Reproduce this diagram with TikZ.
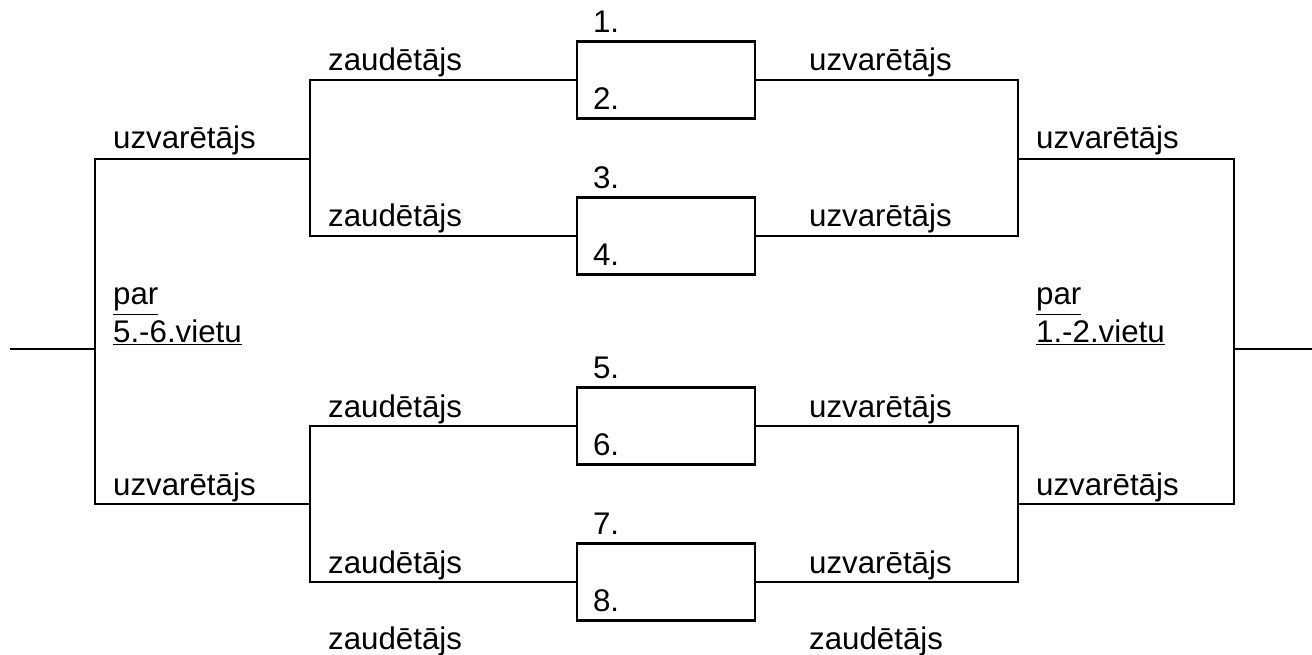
\documentclass[tikz,border=0pt]{standalone}
\usepackage{fontspec}
\setmainfont{Liberation Sans}
\usepackage{tikz}
\usetikzlibrary{positioning}
\usetikzlibrary{calc}

\tikzset{
	game/.style={draw, minimum width=3.56cm, minimum height=1.54cm},
	txt/.style={anchor=base west, inner sep=0pt, font=\fontsize{17.8}{21}\selectfont}
}

\begin{document}
\begin{tikzpicture}[x=0.02cm, y=-0.02cm, line width=1.3pt]
	\useasboundingbox (0,0) rectangle (1312,655);

	% nodes
	\node[game] (m1) at (666,80) {};
	\node[game] (m2) at (666,236) {};
	\node[game] (m3) at (666,426) {};
	\node[game] (m4) at (666,582) {};

	\node[txt] (n1) at ($(m1.north west)+(16,-8)$) {1.};
	\node[txt] (n2) at ($(m1.south west)+(16,-10)$) {2.};
	\node[txt] (n3) at ($(m2.north west)+(16,-8)$) {3.};
	\node[txt] (n4) at ($(m2.south west)+(16,-10)$) {4.};
	\node[txt] (n5) at ($(m3.north west)+(16,-8)$) {5.};
	\node[txt] (n6) at ($(m3.south west)+(16,-10)$) {6.};
	\node[txt] (n7) at ($(m4.north west)+(16,-8)$) {7.};
	\node[txt] (n8) at ($(m4.south west)+(16,-10)$) {8.};

	\coordinate (lj1) at (310,159);
	\coordinate (lj2) at (310,504);
	\coordinate (lt) at (95,159);
	\coordinate (lb) at (95,504);
	\coordinate (lm) at (95,349);
	\coordinate (lend) at (10,349);
	\coordinate (rj1) at (1018,159);
	\coordinate (rj2) at (1018,504);
	\coordinate (rt) at (1234,159);
	\coordinate (rb) at (1234,504);
	\coordinate (rm) at (1234,349);
	\coordinate (rend) at (1312,349);

	% edges
	\draw (m1.west) -| (lj1) |- (m2.west);
	\draw (m3.west) -| (lj2) |- (m4.west);
	\draw (lj1) -- (lt) -- (lb) -- (lj2);
	\draw (lm) -- (lend);

	\draw (m1.east) -| (rj1) |- (m2.east);
	\draw (m3.east) -| (rj2) |- (m4.east);
	\draw (rj1) -- (rt) -- (rb) -- (rj2);
	\draw (rm) -- (rend);

	% labels
	\node[txt] (z1) at (327,71) {zaudētājs};
	\node[txt] (z2) at (327,227) {zaudētājs};
	\node[txt] (z3) at (327,417) {zaudētājs};
	\node[txt] (z4) at (327,573) {zaudētājs};
	\node[txt] (z5) at (327,649) {zaudētājs};

	\node[txt] (u1) at (808,71) {uzvarētājs};
	\node[txt] (u2) at (808,227) {uzvarētājs};
	\node[txt] (u3) at (808,417) {uzvarētājs};
	\node[txt] (u4) at (808,573) {uzvarētājs};
	\node[txt] (z6) at (808,649) {zaudētājs};

	\node[txt] (ul1) at (112,149) {uzvarētājs};
	\node[txt] (ul2) at (112,495) {uzvarētājs};
	\node[txt] (ur1) at (1035,149) {uzvarētājs};
	\node[txt] (ur2) at (1035,495) {uzvarētājs};

	\node[txt] (pl1) at (112,305) {\underline{par}};
	\node[txt] (pl2) at (112,342) {\underline{5.-6.vietu}};
	\node[txt] (pr1) at (1035,305) {\underline{par}};
	\node[txt] (pr2) at (1035,342) {\underline{1.-2.vietu}};
\end{tikzpicture}
\end{document}
